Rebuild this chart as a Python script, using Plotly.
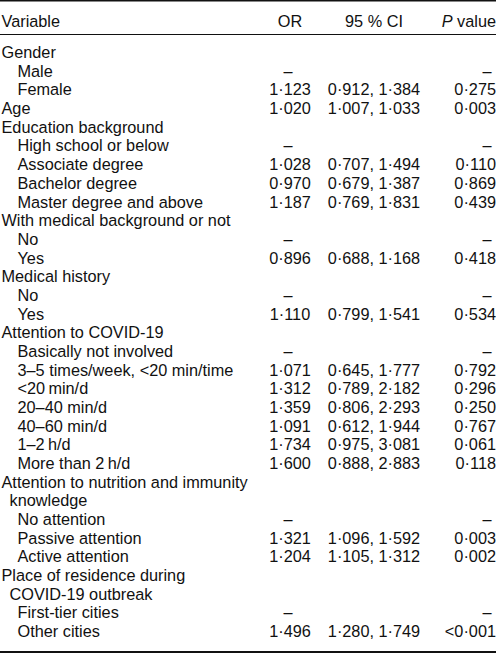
import plotly.graph_objects as go

# ---- data ----
labels = [
    "Gender", "Male", "Female", "Age", "Education background",
    "High school or below", "Associate degree", "Bachelor degree",
    "Master degree and above", "With medical background or not", "No", "Yes",
    "Medical history", "No", "Yes", "Attention to COVID-19",
    "Basically not involved", "3–5 times/week, <20 min/time",
    "<20\u2009min/d", "20–40 min/d", "40–60 min/d", "1–2\u2009h/d",
    "More than 2\u2009h/d", "Attention to nutrition and immunity", "knowledge",
    "No attention", "Passive attention", "Active attention",
    "Place of residence during", "COVID-19 outbreak", "First-tier cities",
    "Other cities",
]
levels = [0, 1, 1, 0, 0, 1, 1, 1, 1, 0, 1, 1, 0, 1, 1, 0, 1, 1, 1, 1, 1, 1, 1,
          0, 2, 1, 1, 1, 0, 2, 1, 1]
or_vals = ["", "–", "1·123", "1·020", "", "–", "1·028", "0·970", "1·187", "",
           "–", "0·896", "", "–", "1·110", "", "–", "1·071", "1·312", "1·359",
           "1·091", "1·734", "1·600", "", "", "–", "1·321", "1·204", "", "",
           "–", "1·496"]
ci_vals = ["", "", "0·912, 1·384", "1·007, 1·033", "", "", "0·707, 1·494",
           "0·679, 1·387", "0·769, 1·831", "", "", "0·688, 1·168", "", "",
           "0·799, 1·541", "", "", "0·645, 1·777", "0·789, 2·182",
           "0·806, 2·293", "0·612, 1·944", "0·975, 3·081", "0·888, 2·883", "",
           "", "", "1·096, 1·592", "1·105, 1·312", "", "", "", "1·280, 1·749"]
p_vals = ["", "–", "0·275", "0·003", "", "–", "0·110", "0·869", "0·439", "",
          "–", "0·418", "", "–", "0·534", "", "–", "0·792", "0·296", "0·250",
          "0·767", "0·061", "0·118", "", "", "–", "0·003", "0·002", "", "",
          "–", "<0·001"]
headers = ["Variable", "OR", "95 % CI", "<i>P</i> value"]

# ---- layout constants ----
W, H = 496, 654
XMAX = 498.0  # x-axis span (slightly wider than the pixel width)
ROW0_PX = 54.0
ROW_H = 18.68
HEADER_PX = 22.5
FONT = dict(family="Liberation Sans, Arial, sans-serif", size=16.3, color="#111")


def px2x(px):
    return px * XMAX / W


indent = {0: px2x(1.5), 1: px2x(17.5), 2: px2x(9.5)}
X_OR, X_OR_DASH = px2x(290), px2x(288)
X_CI = px2x(374)
X_P, X_P_DASH = XMAX, px2x(487)

rows = list(range(len(labels)))
header_row = (HEADER_PX - ROW0_PX) / ROW_H

fig = go.Figure()


def add_text(xs, ys, texts, pos):
    fig.add_trace(go.Scatter(x=xs, y=ys, text=texts, mode="text",
                             textposition=pos, textfont=FONT,
                             hoverinfo="skip", showlegend=False, cliponaxis=False))


# variable column
add_text([indent[l] for l in levels], rows, labels, "middle right")

# OR column
r = [i for i in rows if or_vals[i] not in ("", "–")]
add_text([X_OR] * len(r), r, [or_vals[i] for i in r], "middle center")
r = [i for i in rows if or_vals[i] == "–"]
add_text([X_OR_DASH] * len(r), r, [or_vals[i] for i in r], "middle center")

# CI column
r = [i for i in rows if ci_vals[i]]
add_text([X_CI] * len(r), r, [ci_vals[i] for i in r], "middle center")

# P column
r = [i for i in rows if p_vals[i] not in ("", "–")]
add_text([X_P] * len(r), r, [p_vals[i] for i in r], "middle left")
r = [i for i in rows if p_vals[i] == "–"]
add_text([X_P_DASH] * len(r), r, [p_vals[i] for i in r], "middle center")

# header
add_text([indent[0]], [header_row], [headers[0]], "middle right")
add_text([X_OR, X_CI], [header_row] * 2, headers[1:3], "middle center")
add_text([X_P], [header_row], [headers[3]], "middle left")

y_top = (0 - ROW0_PX) / ROW_H
y_bot = (H - ROW0_PX) / ROW_H


def hline(px, width):
    fig.add_shape(type="line", xref="paper", yref="paper", x0=0, x1=1,
                  y0=1 - px / H, y1=1 - px / H,
                  line=dict(color="#111", width=width))


hline(0.8, 1.6)
hline(34.5, 1)
hline(652.0, 1.8)

fig.update_layout(
    width=W, height=H,
    margin=dict(l=0, r=0, t=0, b=0),
    paper_bgcolor="white", plot_bgcolor="white",
    xaxis=dict(range=[0, XMAX], visible=False, fixedrange=True),
    yaxis=dict(range=[y_bot, y_top], visible=False, fixedrange=True),
)

fig.write_html(
    "out.html",
    config={"displayModeBar": False},
    post_script="document.body.style.margin='0';document.body.style.overflow='hidden';",
)
